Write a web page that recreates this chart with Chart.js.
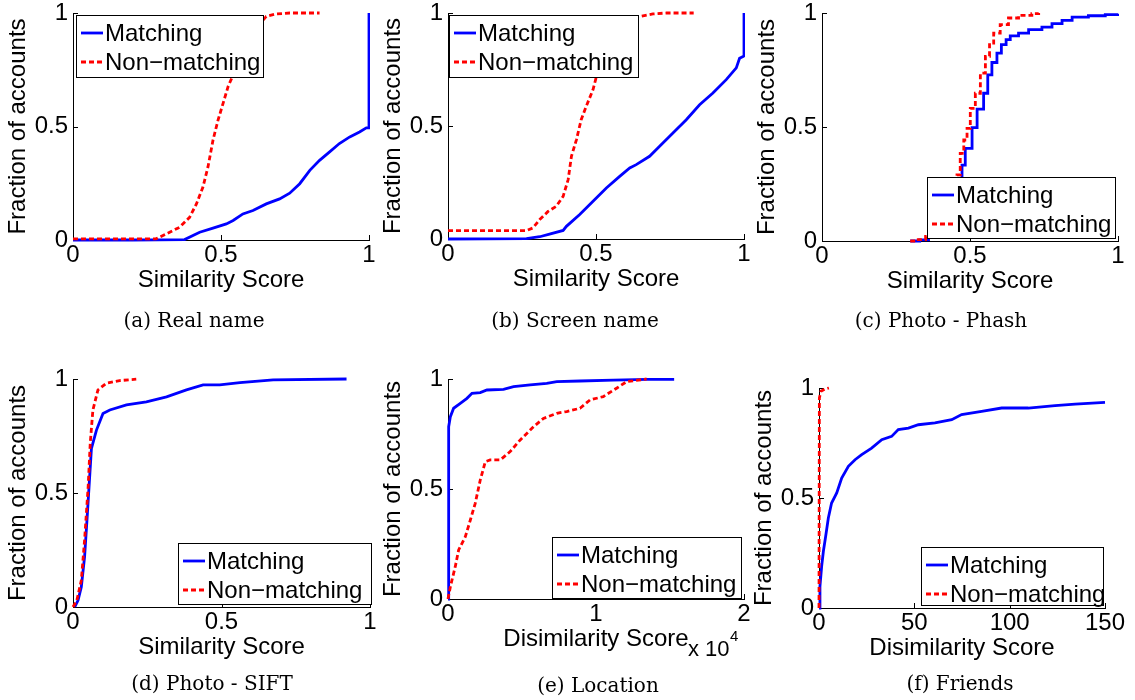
<!DOCTYPE html>
<html>
<head>
<meta charset="utf-8">
<script src="https://cdn.jsdelivr.net/npm/chart.js@4.4.0/dist/chart.umd.min.js"></script>
<style>
  body { margin: 0; background: #fff; width: 1135px; height: 700px; position: relative; overflow: hidden; }
  canvas { position: absolute; }
  .cap { position: absolute; width: 300px; text-align: center; font-family: "DejaVu Serif", serif; font-size: 20px; line-height: 24px; color: #000; }
</style>
</head>
<body>
<script>
// CDF curves, [score, fraction]
const realNameMatching = [[0,0],[0.2,0],[0.377,0.002],[0.428,0.034],[0.473,0.052],[0.518,0.071],[0.541,0.086],[0.574,0.115],[0.608,0.13],[0.653,0.159],[0.698,0.181],[0.732,0.206],[0.766,0.248],[0.8,0.307],[0.833,0.351],[0.867,0.388],[0.9,0.425],[0.935,0.454],[0.968,0.476],[0.991,0.494],[1,0.494],[1,1]];
const realNameNonMatching = [[0,0.005],[0.28,0.005],[0.315,0.027],[0.36,0.056],[0.394,0.1],[0.417,0.159],[0.439,0.233],[0.456,0.322],[0.473,0.44],[0.49,0.528],[0.507,0.602],[0.524,0.676],[0.541,0.727],[0.563,0.81],[0.597,0.9],[0.63,0.95],[0.653,0.985],[0.687,0.996],[0.732,1],[0.833,1]];

const screenNameMatching = [[0,0],[0.265,0.002],[0.31,0.01],[0.343,0.022],[0.389,0.038],[0.4,0.056],[0.445,0.108],[0.49,0.167],[0.535,0.226],[0.58,0.277],[0.614,0.314],[0.636,0.329],[0.681,0.366],[0.715,0.41],[0.76,0.469],[0.805,0.528],[0.85,0.594],[0.895,0.646],[0.94,0.705],[0.974,0.757],[0.985,0.8],[0.997,0.808],[1,0.81],[1,1]];
const screenNameNonMatching = [[0,0.037],[0.265,0.037],[0.287,0.049],[0.31,0.086],[0.338,0.122],[0.366,0.145],[0.389,0.189],[0.406,0.263],[0.417,0.366],[0.434,0.44],[0.45,0.528],[0.467,0.587],[0.49,0.661],[0.5,0.712],[0.524,0.82],[0.557,0.91],[0.6,0.97],[0.648,0.985],[0.692,0.996],[0.738,1],[0.83,1]];

const phashMatching = [[0.298,0],[0.33,0.005],[0.36,0.015],[0.39,0.04],[0.42,0.09],[0.45,0.18],[0.462,0.25],[0.473,0.333],[0.484,0.406],[0.507,0.497],[0.524,0.578],[0.546,0.648],[0.56,0.729],[0.574,0.783],[0.591,0.824],[0.606,0.861],[0.622,0.883],[0.636,0.9],[0.664,0.912],[0.698,0.927],[0.743,0.938],[0.777,0.953],[0.811,0.968],[0.845,0.982],[0.9,0.988],[0.957,0.993],[1,0.997]];
const phashNonMatching = [[0.298,0],[0.32,0.006],[0.35,0.02],[0.38,0.05],[0.41,0.1],[0.44,0.2],[0.456,0.29],[0.467,0.384],[0.479,0.443],[0.49,0.494],[0.501,0.582],[0.518,0.648],[0.535,0.736],[0.552,0.81],[0.566,0.868],[0.58,0.912],[0.602,0.949],[0.63,0.978],[0.664,0.99],[0.709,0.997],[0.732,1]];

const siftMatching = [[0.006,0],[0.017,0.029],[0.028,0.088],[0.039,0.22],[0.047,0.38],[0.054,0.527],[0.062,0.695],[0.079,0.776],[0.101,0.849],[0.124,0.864],[0.18,0.886],[0.247,0.9],[0.315,0.922],[0.382,0.952],[0.438,0.974],[0.494,0.974],[0.562,0.984],[0.674,0.996],[0.921,1]];
const siftNonMatching = [[0,0],[0.013,0.029],[0.028,0.117],[0.039,0.293],[0.051,0.527],[0.058,0.717],[0.067,0.864],[0.084,0.952],[0.112,0.981],[0.157,0.993],[0.213,0.999]];

const locationMatching = [[0,0],[45,0.783],[160,0.829],[380,0.867],[830,0.889],[1280,0.912],[1620,0.935],[2180,0.938],[2630,0.95],[3750,0.953],[4430,0.965],[5550,0.973],[6670,0.98],[7350,0.988],[8920,0.991],[11170,0.995],[13420,0.998],[15280,0.998]];
const locationNonMatching = [[0,0],[160,0.056],[490,0.147],[720,0.223],[1170,0.283],[1510,0.359],[1840,0.435],[2180,0.541],[2520,0.624],[2850,0.632],[3530,0.632],[4200,0.67],[4880,0.723],[5780,0.783],[6450,0.821],[7350,0.844],[8020,0.852],[8920,0.867],[9600,0.905],[10490,0.92],[11390,0.958],[12070,0.988],[13420,1]];

const friendsMatching = [[0,0],[0.5,0.098],[1.4,0.19],[2.3,0.258],[3.5,0.326],[4.9,0.409],[6.6,0.477],[9.3,0.523],[11.9,0.591],[15.4,0.644],[18.9,0.674],[22.4,0.697],[27.6,0.727],[32.9,0.765],[38.1,0.78],[41.6,0.811],[46.9,0.818],[52.1,0.833],[60.8,0.841],[69.6,0.856],[74.8,0.879],[85.3,0.894],[95.8,0.909],[109.8,0.909],[123.8,0.92],[134.3,0.927],[150,0.935]];
const friendsNonMatching = [[0,0],[0.2,0.955],[1,0.985],[3.1,0.995],[5.2,1]];

const seriesLabels = ['Matching', 'Non\u2212matching'];
const captions = ['(a) Real name', '(b) Screen name', '(c) Photo - Phash', '(d) Photo - SIFT', '(e) Location', '(f) Friends'];
const xTitles = ['Similarity Score', 'Similarity Score', 'Similarity Score', 'Similarity Score', 'Disimilarity Score', 'Disimilarity Score'];
const yTitle = 'Fraction of accounts';

// layout: plot area [left, top, right, bottom], legend box [x, y, w, h], caption centre [x, y]
const panels = [
  { area: [73, 13, 369, 240],  xMax: 1,     xStep: 0.5,   legend: [76, 15, 187, 62],   cap: [194, 320], m: realNameMatching,   n: realNameNonMatching },
  { area: [448, 13, 744, 239], xMax: 1,     xStep: 0.5,   legend: [449, 15, 189, 62],  cap: [575, 320], m: screenNameMatching, n: screenNameNonMatching },
  { area: [822, 13, 1118, 241],xMax: 1,     xStep: 0.5,   legend: [927, 177, 188, 61], cap: [941, 320], m: phashMatching,      n: phashNonMatching, stepped: true },
  { area: [73, 379, 370, 607], xMax: 1,     xStep: 0.5,   legend: [178, 543, 193, 61], cap: [212, 683], m: siftMatching,       n: siftNonMatching },
  { area: [448, 379, 744, 599],xMax: 20000, xStep: 10000, legend: [552, 537, 189, 61], cap: [598, 685], m: locationMatching,   n: locationNonMatching, exponent: true },
  { area: [819, 388, 1105, 608],xMax: 150,  xStep: 50,    legend: [921, 547, 182, 58], cap: [960, 683], m: friendsMatching,    n: friendsNonMatching }
];

const FONT = '"Liberation Sans", Arial, sans-serif';
const Y_W = 75, X_H = 70, PAD_T = 20, PAD_R = 30;

// MATLAB style inward tick marks
const innerTicks = {
  id: 'innerTicks',
  beforeDatasetsDraw(chart) {
    const { ctx, chartArea: a, scales: { x, y } } = chart;
    ctx.save();
    ctx.strokeStyle = '#000';
    ctx.lineWidth = 1;
    ctx.beginPath();
    x.ticks.forEach(t => {
      const px = Math.round(x.getPixelForValue(t.value)) + 0.5;
      ctx.moveTo(px, a.bottom); ctx.lineTo(px, a.bottom - 5);
    });
    y.ticks.forEach(t => {
      const py = Math.round(y.getPixelForValue(t.value)) + 0.5;
      ctx.moveTo(a.left, py); ctx.lineTo(a.left + 5, py);
    });
    ctx.stroke();
    ctx.restore();
  }
};

// boxed legend inside the plot
const boxLegend = {
  id: 'boxLegend',
  afterDraw(chart, args, opts) {
    const { ctx } = chart;
    const [bx, by, bw, bh] = opts.box;
    ctx.save();
    ctx.fillStyle = '#fff';
    ctx.fillRect(bx, by, bw, bh);
    ctx.strokeStyle = '#000';
    ctx.lineWidth = 1;
    ctx.strokeRect(bx + 0.5, by + 0.5, bw, bh);
    chart.data.datasets.forEach((ds, i) => {
      const cy = by + 18 + i * 29;
      ctx.beginPath();
      ctx.setLineDash(ds.borderDash || []);
      ctx.strokeStyle = ds.borderColor;
      ctx.lineWidth = ds.borderWidth;
      ctx.moveTo(bx + 5, cy); ctx.lineTo(bx + 27, cy);
      ctx.stroke();
      ctx.setLineDash([]);
      ctx.fillStyle = '#000';
      ctx.font = '24px ' + FONT;
      ctx.textBaseline = 'middle';
      ctx.fillText(ds.label, bx + 29, cy + 1);
    });
    if (opts.exponent) {
      const a = chart.chartArea;
      ctx.font = '22px ' + FONT;
      ctx.fillText('x 10', a.right - 56, a.bottom + 51);
      ctx.font = '15px ' + FONT;
      ctx.fillText('4', a.right - 14, a.bottom + 38);
    }
    ctx.restore();
  }
};

panels.forEach((p, i) => {
  const [l, t, r, b] = p.area;
  const cl = l - Y_W, ct = t - PAD_T;
  const canvas = document.createElement('canvas');
  canvas.width = (r - l) + Y_W + PAD_R;
  canvas.height = (b - t) + PAD_T + X_H;
  canvas.style.left = cl + 'px';
  canvas.style.top = ct + 'px';
  document.body.appendChild(canvas);

  const cap = document.createElement('div');
  cap.className = 'cap';
  cap.textContent = captions[i];
  cap.style.left = (p.cap[0] - 150) + 'px';
  cap.style.top = (p.cap[1] - 12) + 'px';
  document.body.appendChild(cap);

  const toXY = arr => arr.map(([x, y]) => ({ x, y }));
  const clip = { left: 4, top: 4, right: 1, bottom: 4 };

  new Chart(canvas, {
    type: 'line',
    data: {
      datasets: [
        { label: seriesLabels[0], data: toXY(p.m), borderColor: '#0000ff', borderWidth: 2.8, pointRadius: 0, stepped: !!p.stepped, order: 1, clip },
        { label: seriesLabels[1], data: toXY(p.n), borderColor: '#ff0000', borderWidth: 2.8, borderDash: [5, 3], pointRadius: 0, stepped: !!p.stepped, order: 0, clip }
      ]
    },
    options: {
      responsive: false,
      animation: false,
      layout: { padding: { left: 0, top: PAD_T, right: PAD_R, bottom: 0 } },
      plugins: {
        legend: { display: false },
        tooltip: { enabled: false },
        boxLegend: { box: [p.legend[0] - cl, p.legend[1] - ct, p.legend[2], p.legend[3]], exponent: !!p.exponent }
      },
      scales: {
        x: {
          type: 'linear',
          min: 0, max: p.xMax,
          grid: { display: false, drawTicks: false },
          border: { display: true, color: '#000', width: 1 },
          ticks: {
            stepSize: p.xStep, autoSkip: false, maxRotation: 0, padding: 3, color: '#000',
            font: { family: FONT, size: 24, lineHeight: 1 },
            callback: v => String(p.exponent ? v / 10000 : v)
          },
          title: { display: true, text: xTitles[i], color: '#000', font: { family: FONT, size: 24, lineHeight: 1 }, padding: { top: 0, bottom: X_H - 52 } },
          afterFit: s => { s.height = X_H; }
        },
        y: {
          min: 0, max: 1,
          grid: { display: false, drawTicks: false },
          border: { display: true, color: '#000', width: 1 },
          ticks: { stepSize: 0.5, padding: 5, color: '#000', font: { family: FONT, size: 24, lineHeight: 1 }, callback: v => String(v) },
          title: { display: true, text: yTitle, color: '#000', font: { family: FONT, size: 24, lineHeight: 1 }, padding: { top: 8, bottom: 0 } },
          afterFit: s => { s.width = Y_W; }
        }
      }
    },
    plugins: [innerTicks, boxLegend]
  });
});
</script>
</body>
</html>
